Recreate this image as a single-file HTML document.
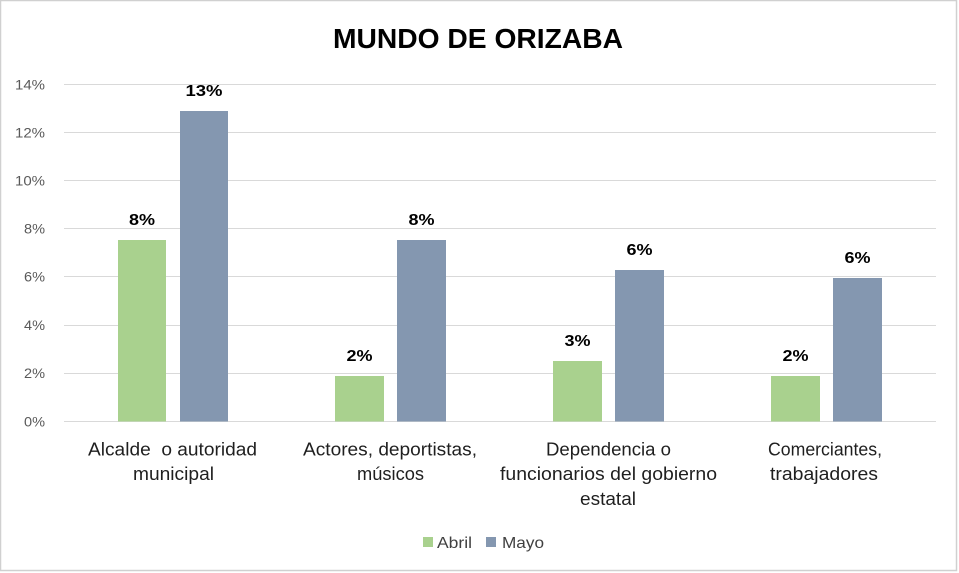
<!DOCTYPE html>
<html>
<head>
<meta charset="utf-8">
<style>
  html,body{margin:0;padding:0;background:#fff;}
  svg{display:block;}
  text{font-family:"Liberation Sans", Arial, sans-serif;}
</style>
</head>
<body>
<svg width="959" height="573" viewBox="0 0 959 573" xmlns="http://www.w3.org/2000/svg">
  <rect x="0" y="0" width="959" height="573" fill="#ffffff"/>
  <rect x="0.5" y="0.5" width="956" height="570" fill="none" stroke="#d0d0d0" stroke-width="1.5"/>

  <!-- Title -->
  <text x="478" y="48" text-anchor="middle" font-size="28" font-weight="bold" fill="#000" textLength="290" lengthAdjust="spacingAndGlyphs">MUNDO DE ORIZABA</text>

  <!-- Gridlines -->
  <g stroke="#d9d9d9" stroke-width="1">
    <line x1="64" y1="84.5" x2="936" y2="84.5"/>
    <line x1="64" y1="132.5" x2="936" y2="132.5"/>
    <line x1="64" y1="180.5" x2="936" y2="180.5"/>
    <line x1="64" y1="228.5" x2="936" y2="228.5"/>
    <line x1="64" y1="276.5" x2="936" y2="276.5"/>
    <line x1="64" y1="325.5" x2="936" y2="325.5"/>
    <line x1="64" y1="373.5" x2="936" y2="373.5"/>
    <line x1="64" y1="421.5" x2="936" y2="421.5"/>
  </g>

  <!-- Y tick labels -->
  <g font-size="14" fill="#595959" text-anchor="end">
    <text x="45" y="89.5" textLength="30" lengthAdjust="spacingAndGlyphs">14%</text>
    <text x="45" y="137.5" textLength="30" lengthAdjust="spacingAndGlyphs">12%</text>
    <text x="45" y="185.5" textLength="30" lengthAdjust="spacingAndGlyphs">10%</text>
    <text x="45" y="233.5" textLength="21" lengthAdjust="spacingAndGlyphs">8%</text>
    <text x="45" y="281.5" textLength="21" lengthAdjust="spacingAndGlyphs">6%</text>
    <text x="45" y="330" textLength="21" lengthAdjust="spacingAndGlyphs">4%</text>
    <text x="45" y="378" textLength="21" lengthAdjust="spacingAndGlyphs">2%</text>
    <text x="45" y="426.5" textLength="21" lengthAdjust="spacingAndGlyphs">0%</text>
  </g>

  <!-- Bars -->
  <g fill="#a9d18e">
    <rect x="118" y="240" width="48" height="181.5"/>
    <rect x="335" y="376" width="49" height="45.5"/>
    <rect x="553" y="361" width="49" height="60.5"/>
    <rect x="771" y="376" width="49" height="45.5"/>
  </g>
  <g fill="#8497b0">
    <rect x="180" y="111" width="48" height="310.5"/>
    <rect x="397" y="240" width="49" height="181.5"/>
    <rect x="615" y="270" width="49" height="151.5"/>
    <rect x="833" y="278" width="49" height="143.5"/>
  </g>

  <!-- Data labels -->
  <g font-size="16" font-weight="bold" fill="#000" text-anchor="middle">
    <text x="142" y="225" textLength="26" lengthAdjust="spacingAndGlyphs">8%</text>
    <text x="204" y="96" textLength="37" lengthAdjust="spacingAndGlyphs">13%</text>
    <text x="359.5" y="361" textLength="26" lengthAdjust="spacingAndGlyphs">2%</text>
    <text x="421.5" y="225" textLength="26" lengthAdjust="spacingAndGlyphs">8%</text>
    <text x="577.5" y="346" textLength="26" lengthAdjust="spacingAndGlyphs">3%</text>
    <text x="639.5" y="255" textLength="26" lengthAdjust="spacingAndGlyphs">6%</text>
    <text x="795.5" y="361" textLength="26" lengthAdjust="spacingAndGlyphs">2%</text>
    <text x="857.5" y="263" textLength="26" lengthAdjust="spacingAndGlyphs">6%</text>
  </g>

  <!-- Category labels -->
  <g font-size="18" fill="#1f1f1f" text-anchor="middle">
    <text x="172.5" y="455.5" textLength="169" lengthAdjust="spacingAndGlyphs" xml:space="preserve">Alcalde  o autoridad</text>
    <text x="173.5" y="480" textLength="81" lengthAdjust="spacingAndGlyphs">municipal</text>

    <text x="390" y="455.5" textLength="174" lengthAdjust="spacingAndGlyphs">Actores, deportistas,</text>
    <text x="390.5" y="480" textLength="67" lengthAdjust="spacingAndGlyphs">músicos</text>

    <text x="608.5" y="455.5" textLength="125" lengthAdjust="spacingAndGlyphs">Dependencia o</text>
    <text x="608.5" y="480" textLength="217" lengthAdjust="spacingAndGlyphs">funcionarios del gobierno</text>
    <text x="608" y="505" textLength="56" lengthAdjust="spacingAndGlyphs">estatal</text>

    <text x="825" y="455.5" textLength="114" lengthAdjust="spacingAndGlyphs">Comerciantes,</text>
    <text x="824" y="480" textLength="108" lengthAdjust="spacingAndGlyphs">trabajadores</text>
  </g>

  <!-- Legend -->
  <rect x="423" y="537" width="10" height="10" fill="#a9d18e"/>
  <text x="437" y="548" font-size="16" fill="#404040" textLength="35" lengthAdjust="spacingAndGlyphs">Abril</text>
  <rect x="486" y="537" width="10" height="10" fill="#8497b0"/>
  <text x="502" y="548" font-size="16" fill="#404040" textLength="42" lengthAdjust="spacingAndGlyphs">Mayo</text>
</svg>
</body>
</html>
